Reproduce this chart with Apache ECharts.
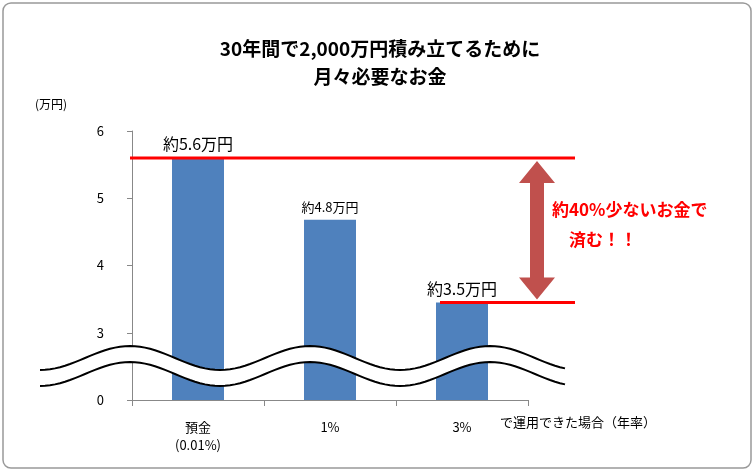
<!DOCTYPE html>
<html><head><meta charset="utf-8">
<script src="https://cdn.jsdelivr.net/npm/echarts@6/dist/echarts.min.js"></script>
<style>html,body{margin:0;padding:0;background:#fff}#c{width:756px;height:472px}</style>
</head><body><div id="c"></div>
<script>
const categories = ['預金\n(0.01%)', '1%', '3%'];
const values = [5.6, 4.68, 3.45];
const valueLabels = ['約5.6万円', '約4.8万円', '約3.5万円'];
const yTicks = [2, 3, 4, 5, 6];
const yTickLabels = {2: '0', 3: '3', 4: '4', 5: '5', 6: '6'};

const chart = echarts.init(document.getElementById('c'));
const F = 'Noto Sans CJK JP';
chart.setOption({
  animation: false,
  textStyle: {fontFamily: F},
  title: {text: '30年間で2,000万円積み立てるために\n月々必要なお金', left: 375, top: 30, textAlign: 'center',
    textStyle: {fontSize: 19, fontWeight: 'bold', color: '#000', lineHeight: 28, fontFamily: F}},
  grid: {left: 132, right: 228, top: 131, bottom: 72},
  xAxis: {type: 'category', data: categories,
    axisLine: {lineStyle: {color: '#888'}}, axisTick: {show: true, length: 6, lineStyle: {color: '#888'}},
    axisLabel: {color: '#000', fontSize: 13, margin: 18, lineHeight: 18}},
  yAxis: {type: 'value', min: 2, max: 6, interval: 1,
    axisLine: {show: true, lineStyle: {color: '#888'}}, axisTick: {show: true, length: 5, lineStyle: {color: '#888'}},
    splitLine: {show: false},
    axisLabel: {color: '#000', fontSize: 13, margin: 28, formatter: v => yTickLabels[v] ?? ''}},
  series: [{type: 'bar', data: values, barWidth: 52, itemStyle: {color: '#4f81bd'}}]
});

const p = (i, v) => chart.convertToPixel({xAxisIndex: 0, yAxisIndex: 0}, [i, v]);
const g = [];
const wave = (x, off) => 358 + off - 12 * Math.sin((x - 85) / 180 * 2 * Math.PI);
const upper = [], lower = [];
for (let x = 40; x <= 565; x += 5) { upper.push([x, wave(x, 0)]); lower.push([x, wave(x, 16)]); }
g.push({type: 'polygon', shape: {points: upper.concat(lower.slice().reverse())}, style: {fill: '#fff'}, z: 50});
g.push({type: 'polyline', shape: {points: upper}, style: {stroke: '#000', lineWidth: 2, fill: null}, z: 51});
g.push({type: 'polyline', shape: {points: lower}, style: {stroke: '#000', lineWidth: 2, fill: null}, z: 51});
const y1 = p(0, values[0])[1], y3 = p(2, values[2])[1];
g.push({type: 'line', shape: {x1: 130, y1: y1, x2: 575, y2: y1}, style: {stroke: '#ff0000', lineWidth: 3}, z: 40});
g.push({type: 'line', shape: {x1: 440, y1: y3, x2: 575, y2: y3}, style: {stroke: '#ff0000', lineWidth: 3}, z: 40});
const ax = 537, t = y1 + 3, b = y3 - 3;
g.push({type: 'polygon', shape: {points: [[ax, t], [ax + 18, t + 22], [ax + 7, t + 22], [ax + 7, b - 22], [ax + 18, b - 22], [ax, b], [ax - 18, b - 22], [ax - 7, b - 22], [ax - 7, t + 22], [ax - 18, t + 22]]},
  style: {fill: '#c0504d'}, z: 40});
g.push({type: 'text', left: 552, top: 195, style: {text: '約40%少ないお金で\n　済む！！', fill: '#ff0000', font: 'bold 17px "' + F + '"', lineHeight: 30}, z: 60});
const sizes = [16, 13, 16];
values.forEach((v, i) => {
  const [x, y] = p(i, v);
  g.push({type: 'text', x: x, y: y - 6, style: {text: valueLabels[i], fill: '#000', font: sizes[i] + 'px "' + F + '"', textAlign: 'center', textVerticalAlign: 'bottom'}, z: 60});
});
g.push({type: 'text', left: 35, top: 98, style: {text: '(万円)', fill: '#000', font: '12px "' + F + '"'}});
g.push({type: 'text', left: 500, top: 416, style: {text: 'で運用できた場合（年率）', fill: '#000', font: '13px "' + F + '"'}});
g.push({type: 'rect', shape: {x: 3, y: 3, width: 748, height: 465, r: 8}, style: {fill: null, stroke: '#999', lineWidth: 1.5}});
chart.setOption({graphic: g});
</script></body></html>
